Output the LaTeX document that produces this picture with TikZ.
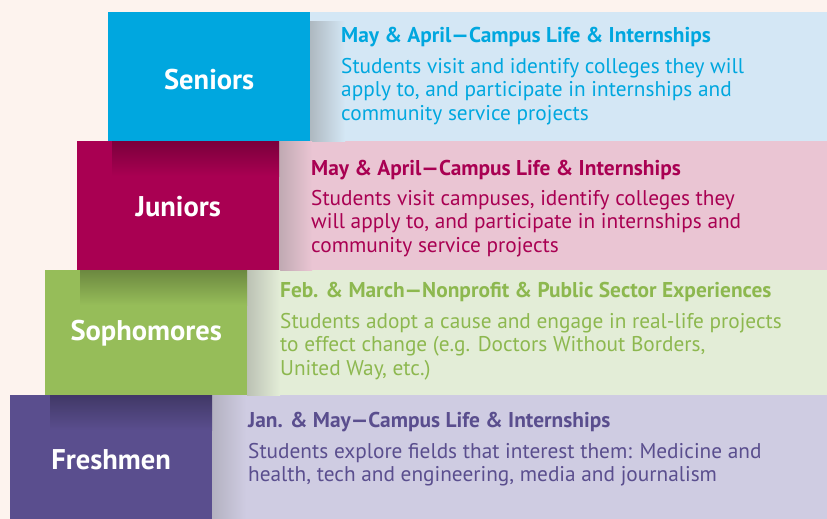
\documentclass[tikz,border=0pt]{standalone}
\usepackage{fontspec}
\setmainfont{PT Sans}
\begin{document}
\begin{tikzpicture}[x=1pt,y=-1pt,
  box/.style={anchor=north west,inner sep=0,minimum width=202pt,text=white,font=\bfseries\fontsize{28.5}{32}\selectfont},
  lbl/.style={text=white,inner sep=0,font=\bfseries\fontsize{28.5}{32}\selectfont},
  panel/.style={anchor=north west,inner sep=0},
  head/.style={anchor=base west,inner sep=0,font=\bfseries\fontsize{21.4}{24}\selectfont},
  body/.style={anchor=north west,inner sep=0,align=left,font=\fontsize{21.3}{23.5}\selectfont}]
\definecolor{bg}{HTML}{FDF3EE}
\definecolor{sen}{HTML}{00A7DF}
\definecolor{senl}{HTML}{D4E7F5}
\definecolor{jun}{HTML}{A90052}
\definecolor{junl}{HTML}{EAC5D3}
\definecolor{sop}{HTML}{96BD59}
\definecolor{sopt}{HTML}{8DB84F}
\definecolor{sopl}{HTML}{E3EDD7}
\definecolor{fre}{HTML}{5A4E8E}
\definecolor{frel}{HTML}{CFCCE2}
\fill[bg] (0,0) rectangle (827,519);
\useasboundingbox (0,0) rectangle (827,519);
% panels
\node[panel,fill=senl,minimum width=517pt,minimum height=129pt] (senp) at (310,12) {};
\node[panel,fill=junl,minimum width=548pt,minimum height=129pt] (junp) at (279,141) {};
\node[panel,fill=sopl,minimum width=580pt,minimum height=125pt] (sopp) at (247,270) {};
\node[panel,fill=frel,minimum width=615pt,minimum height=124pt] (frep) at (212,395) {};
% panel shadows
\shade[left color=senl!55!gray, right color=senl] (310,22) rectangle (345,141);
\shade[left color=junl!60!gray, right color=junl] (279,141) rectangle (312,270);
\shade[left color=sopl!60!gray, right color=sopl] (247,270) rectangle (280,395);
\shade[left color=frel!65!gray, right color=frel] (212,395) rectangle (246,519);
% coloured boxes
\node[box,fill=sen,minimum height=129pt] (sen) at (108,12) {};
\node[box,fill=jun,minimum height=129pt] (jun) at (77,141) {};
\node[box,fill=sop,minimum height=125pt] (sop) at (45,270) {};
\node[box,fill=fre,minimum height=124pt] (fre) at (10,395) {};
% top shadows on boxes
\shade[top color=jun!72!black, bottom color=jun] (112,141) rectangle (279,176);
\shade[top color=sop!72!black, bottom color=sop] (80,270) rectangle (247,305);
\shade[top color=fre!72!black, bottom color=fre] (50,395) rectangle (212,430);
% labels
\node[lbl] (senl) at ([yshift=-3pt]sen.center) {Seniors};
\node[lbl] (junl) at ([yshift=-1pt]jun.center) {Juniors};
\node[lbl] (sopl) at ([yshift=0pt]sop.center) {Sophomores};
\node[lbl] (frel) at ([yshift=-3pt]fre.center) {Freshmen};
% texts
\node[head,text=sen] (senh) at (341,43) {May \& April—Campus Life \& Internships};
\node[body,text=sen] (senb) at (341,58) {Students visit and identify colleges they will\\apply to, and participate in internships and\\community service projects};
\node[head,text=jun] (junh) at (311,175) {May \& April—Campus Life \& Internships};
\node[body,text=jun] (junb) at (311,190) {Students visit campuses, identify colleges they\\will apply to, and participate in internships and\\community service projects};
\node[head,text=sopt] (soph) at (280,297) {Feb. \& March—Nonprofit \& Public Sector Experiences};
\node[body,text=sopt] (sopb) at (280,313) {Students adopt a cause and engage in real-life projects\\to effect change (e.g. Doctors Without Borders,\\United Way, etc.)};
\node[head,text=fre] (freh) at (248,427) {Jan. \& May—Campus Life \& Internships};
\node[body,text=fre] (freb) at (248,443) {Students explore fields that interest them: Medicine and\\health, tech and engineering, media and journalism};
\end{tikzpicture}
\end{document}
